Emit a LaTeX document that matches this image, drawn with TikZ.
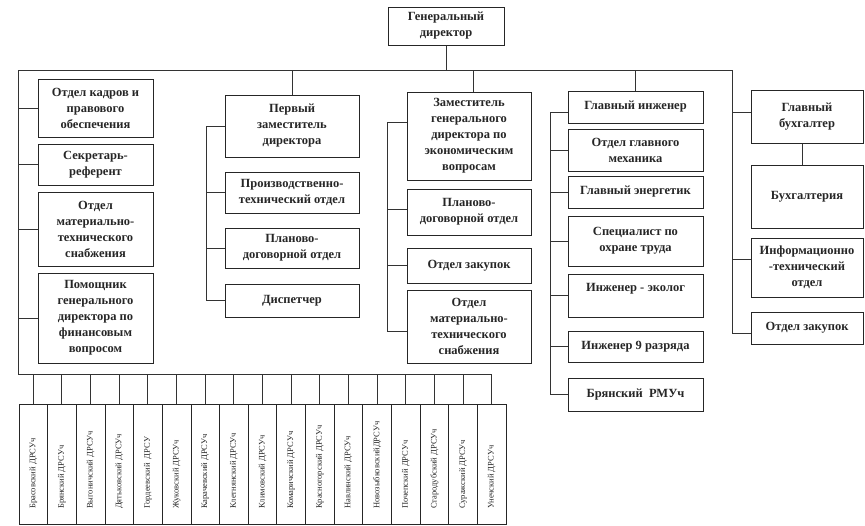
\documentclass[tikz,border=0pt]{standalone}
\usepackage{fontspec}
\setmainfont{Liberation Serif}
\tikzset{
  box/.style={draw=black!85, line width=1pt, align=center, inner sep=1pt,
    font=\bfseries\fontsize{12.5}{16}\selectfont, text=black!85},
  conn/.style={draw=black!80, line width=1pt},
  drsu/.style={draw=black!85, line width=0.8pt},
  drsulabel/.style={rotate=90, anchor=west, inner sep=0pt,
    font=\fontsize{8.5}{9}\selectfont, text=black!85}
}
\newcommand{\orgbox}[6]{\node[box, minimum width={(#4-#2)*1pt}, minimum height={(#5-#3)*1pt}] (#1) at ({(#2+#4)/2},{(#3+#5)/2}) {#6};}
\begin{document}
\begin{tikzpicture}[x=1pt,y=-1pt]
\useasboundingbox (0,0) rectangle (865,525);

% boxes
\orgbox{ceo}{388}{7}{504}{45}{Генеральный\\директор}

\orgbox{l1}{38}{79}{153}{137}{Отдел кадров и\\правового\\обеспечения}
\orgbox{l2}{38}{144}{153}{185}{Секретарь-\\референт}
\orgbox{l3}{38}{192}{153}{266}{Отдел\\материально-\\технического\\снабжения}
\orgbox{l4}{38}{273}{153}{363}{Помощник\\генерального\\директора по\\финансовым\\вопросом}

\orgbox{c2}{225}{95}{359}{157}{Первый\\заместитель\\директора}
\orgbox{c2a}{225}{172}{359}{213}{Производственно-\\технический отдел}
\orgbox{c2b}{225}{228}{359}{268}{Планово-\\договорной отдел}
\orgbox{c2c}{225}{284}{359}{317}{Диспетчер}

\orgbox{c3}{407}{92}{531}{180}{Заместитель\\генерального\\директора по\\экономическим\\вопросам}
\orgbox{c3a}{407}{189}{531}{235}{Планово-\\договорной отдел}
\orgbox{c3b}{407}{248}{531}{283}{Отдел закупок}
\orgbox{c3c}{407}{290}{531}{363}{Отдел\\материально-\\технического\\снабжения}

\orgbox{c4}{568}{91}{703}{123}{Главный инженер}
\orgbox{c4a}{568}{129}{703}{171}{Отдел главного\\механика}
\orgbox{c4b}{568}{176}{703}{208}{Главный энергетик}
\orgbox{c4c}{568}{216}{703}{266}{Специалист по\\охране труда}
\orgbox{c4d}{568}{274}{703}{317}{Инженер - эколог\\\phantom{x}}
\orgbox{c4e}{568}{331}{703}{362}{Инженер 9 разряда}
\orgbox{c4f}{568}{378}{703}{411}{Брянский\ \ РМУч}

\orgbox{c5}{751}{90}{863}{143}{Главный\\бухгалтер}
\orgbox{c5a}{751}{165}{863}{228}{Бухгалтерия}
\orgbox{c5b}{751}{238}{863}{297}{Информационно\\-технический\\отдел}
\orgbox{c5c}{751}{312}{863}{344}{Отдел закупок}

% bottom DRSU boxes
\foreach \i/\t in {1/Брасовский ДРСУч,2/Брянский ДРСУч,3/Выгоничский ДРСУч,4/Дятьковский ДРСУч,5/Гордеевский\ \ ДРСУ,6/Жуковский ДРСУч,7/Карачевский ДРСУч,8/Клетнянский ДРСУч,9/Климовский ДРСУч,10/Комаричский ДРСУч,11/Красногорский ДРСУч,12/Навлинский ДРСУч,13/НовозыбковскийДРСУч,14/Почепский ДРСУч,15/Стародубский ДРСУч,16/Суражский ДРСУч,17/Унечский ДРСУч}{
  \pgfmathsetmacro{\xa}{19+(\i-1)*28.65}
  \pgfmathsetmacro{\xb}{19+\i*28.65}
  \node[drsu, minimum width=28.65pt, minimum height=120pt, inner sep=0pt] (r\i) at ({(\xa+\xb)/2},464) {};
  \node[drsulabel] (t\i) at ({(\xa+\xb)/2},509) {\t};
}

% bus
\coordinate (busL) at (18,70);
\coordinate (busR) at (732,70);
\coordinate (spL) at (18,374);
\draw[conn] (ceo.south) -- (ceo.south |- busL);
\draw[conn] (busL) -- (busR);
\draw[conn] (busL) -- (spL) -- (r17.north |- spL);
\foreach \i in {1,...,17}{\draw[conn] (r\i.north) -- (r\i.north |- spL);}

% left column
\foreach \n in {l1,l2,l3,l4}{\draw[conn] (\n.west) -- (\n.west -| busL);}

% column 2
\coordinate (sp2) at (206,126);
\draw[conn] (c2.north) -- (c2.north |- busL);
\draw[conn] (c2.west) -- (sp2) |- (c2c.west);
\foreach \n in {c2a,c2b}{\draw[conn] (\n.west) -- (\n.west -| sp2);}

% column 3
\coordinate (j3) at (473,70);
\coordinate (sp3) at (387,122);
\draw[conn] (j3) -- (j3 |- c3.north);
\draw[conn] ([yshift=14pt]c3.west) -- (sp3) |- ([yshift=-4.5pt]c3c.west);
\draw[conn] ([yshift=3pt]c3a.west) -- ([yshift=3pt]c3a.west -| sp3);
\draw[conn] (c3b.west) -- (c3b.west -| sp3);

% column 4
\coordinate (sp4) at (550,112);
\draw[conn] (c4.north) -- (c4.north |- busL);
\draw[conn] ([yshift=-5pt]c4.west) -- (sp4) |- (c4f.west);
\foreach \n in {c4a,c4b,c4c,c4d,c4e}{\draw[conn] (\n.west) -- (\n.west -| sp4);}

% column 5
\draw[conn] (busR) |- ([yshift=-5pt]c5c.west);
\draw[conn] ([yshift=4.5pt]c5.west) -- ([yshift=4.5pt]c5.west -| busR);
\draw[conn] ([yshift=8.5pt]c5b.west) -- ([yshift=8.5pt]c5b.west -| busR);
\draw[conn] ([xshift=-5pt]c5.south) -- ([xshift=-5pt]c5a.north);
\end{tikzpicture}
\end{document}
